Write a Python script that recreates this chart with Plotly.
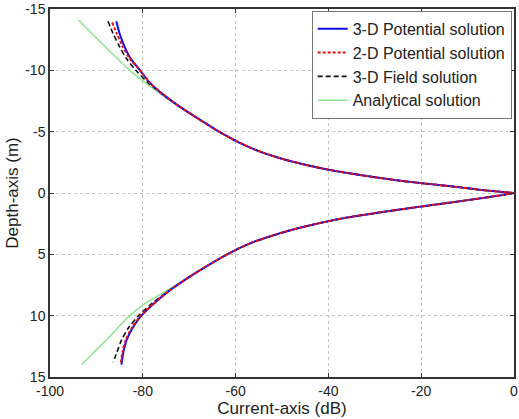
import plotly.graph_objects as go

# Depth (m) and current (dB) for each solution
depth_3dp = [-14, -13, -12, -11, -10, -9, -8, -7, -6, -5, -4.5, -4, -3.5, -3, -2.5, -2, -1.5, -1, -0.5, -0.25, 0,
             0.25, 0.5, 1, 1.5, 2, 2.5, 3, 3.5, 4, 4.5, 5, 6, 7, 8, 9, 10, 11, 12, 13, 14]
curr_3dp = [-85.7, -85.0, -84.0, -82.7, -80.6, -78.5, -75.5, -71.9, -67.8, -63.6, -61.2, -58.6, -55.6, -51.8, -47.2, -41.3, -33.8, -24.5, -12.5, -7.0, 0,
            -4.0, -8.5, -18.0, -27.5, -36.0, -42.5, -47.8, -52.3, -56.2, -59.2, -61.8, -66.4, -70.6, -74.4, -77.6, -80.3, -82.2, -83.5, -84.2, -84.6]

depth_2dp = [-13.9, -13, -12, -11, -10, -9, -8, -7, -6, -5, -4.5, -4, -3.5, -3, -2.5, -2, -1.5, -1, -0.5, -0.25, 0,
             0.25, 0.5, 1, 1.5, 2, 2.5, 3, 3.5, 4, 4.5, 5, 6, 7, 8, 9, 10, 11, 12, 13, 14]
curr_2dp = [-86.6, -85.6, -84.4, -82.9, -80.6, -78.5, -75.5, -71.9, -67.8, -63.6, -61.2, -58.6, -55.6, -51.8, -47.2, -41.3, -33.8, -24.5, -12.5, -7.0, 0,
            -4.0, -8.5, -18.0, -27.5, -36.0, -42.5, -47.8, -52.3, -56.2, -59.2, -61.8, -66.4, -70.6, -74.4, -77.6, -80.4, -82.4, -83.7, -84.4, -84.8]

depth_3df = [-14, -13, -12, -11, -10, -9, -8, -7, -6, -5, -4.5, -4, -3.5, -3, -2.5, -2, -1.5, -1, -0.5, -0.25, 0,
             0.25, 0.5, 1, 1.5, 2, 2.5, 3, 3.5, 4, 4.5, 5, 6, 7, 8, 9, 10, 11, 12, 13, 13.8]
curr_3df = [-87.5, -86.4, -85.1, -83.6, -81.5, -78.9, -75.6, -71.9, -67.8, -63.6, -61.2, -58.6, -55.6, -51.8, -47.2, -41.3, -33.8, -24.5, -12.5, -7.0, 0,
            -4.0, -8.5, -18.0, -27.5, -36.0, -42.5, -47.8, -52.3, -56.2, -59.2, -61.8, -66.4, -70.6, -74.5, -78.0, -80.9, -83.1, -84.6, -85.6, -86.4]

depth_ana = [-14.1, -13, -12, -11, -10, -9, -8, -7, -6, -5, -4.5, -4, -3.5, -3, -2.5, -2, -1.5, -1, -0.5, -0.25, 0,
             0.25, 0.5, 1, 1.5, 2, 2.5, 3, 3.5, 4, 4.5, 5, 6, 7, 8, 9, 10, 11, 12, 13, 14]
curr_ana = [-93.9, -91.0, -88.3, -85.6, -82.8, -79.5, -75.9, -72.0, -67.8, -63.6, -61.2, -58.6, -55.6, -51.8, -47.2, -41.3, -33.8, -24.5, -12.5, -7.0, 0,
            -4.0, -8.5, -18.0, -27.5, -36.0, -42.5, -47.8, -52.3, -56.2, -59.2, -61.8, -66.4, -70.7, -75.0, -79.5, -82.8, -85.4, -87.9, -90.6, -93.2]

x_ticks = [-100, -80, -60, -40, -20, 0]
y_ticks = [-15, -10, -5, 0, 5, 10, 15]

series = [
    ("Analytical solution", depth_ana, curr_ana, dict(color="#8fe58f", width=1.5)),
    ("3-D Field solution", depth_3df, curr_3df, dict(color="#111111", width=1.6, dash="5px,3px")),
    ("3-D Potential solution", depth_3dp, curr_3dp, dict(color="#1010ee", width=2)),
    ("2-D Potential solution", depth_2dp, curr_2dp, dict(color="#ee1010", width=2, dash="3px,2px")),
]
legend_rank = {"3-D Potential solution": 1, "2-D Potential solution": 2,
               "3-D Field solution": 3, "Analytical solution": 4}

fig = go.Figure()
for name, d, c, ln in series:
    up = [(x, y) for x, y in zip(c, d) if y <= 0]
    lo = [(x, y) for x, y in zip(c, d) if y >= 0]
    for i, part in enumerate((up, lo)):
        fig.add_trace(go.Scatter(
            x=[p[0] for p in part], y=[p[1] for p in part], mode="lines",
            name=name, legendgroup=name, showlegend=(i == 0),
            legendrank=legend_rank[name],
            line=dict(shape="spline", smoothing=0.8, **ln)))

axis_common = dict(showline=True, linecolor="#333333", linewidth=1.5, mirror="ticks",
                   ticks="inside", ticklen=4, tickcolor="#333333",
                   showgrid=True, gridcolor="#c4c4c4", griddash="dot", gridwidth=1,
                   zeroline=False, automargin=False, ticklabeloverflow="allow",
                   tickfont=dict(size=14, color="#222222"))

fig.update_xaxes(range=[-100, 0], tickvals=x_ticks, ticktext=[str(v) for v in x_ticks],
                 title=dict(text="Current-axis (dB)", font=dict(size=17, color="#222222"), standoff=0),
                 **axis_common)
fig.update_yaxes(range=[15, -15], tickvals=y_ticks, ticktext=[str(v) for v in y_ticks],
                 title=dict(text="Depth-axis (m)", font=dict(size=17, color="#222222"), standoff=2),
                 **axis_common)

fig.update_layout(
    width=519, height=419,
    margin=dict(l=50, r=5, t=9, b=42),
    paper_bgcolor="white", plot_bgcolor="white",
    font=dict(family="Liberation Sans, Arial, sans-serif", color="#222222"),
    legend=dict(x=0.995, xanchor="right", y=0.995, yanchor="top",
                bgcolor="white", bordercolor="#777777", borderwidth=1,
                font=dict(size=16), tracegroupgap=0, itemwidth=30),
    showlegend=True,
)

fig.write_html("out.html", config={"displayModeBar": False},
               post_script="document.body.style.margin='0';")
